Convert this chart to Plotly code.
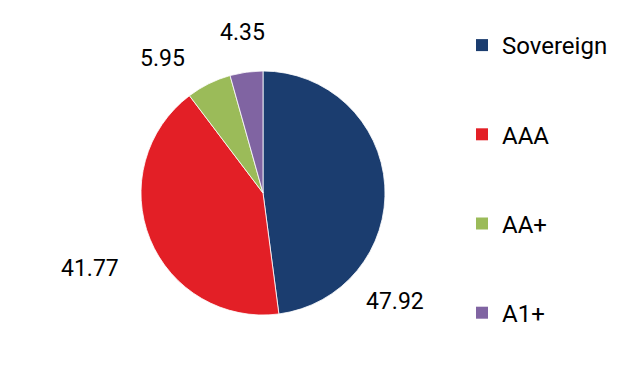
import plotly.graph_objects as go

categories = ["Sovereign", "AAA", "AA+", "A1+"]
values = [47.92, 41.77, 5.95, 4.35]
colors = ["#1b3d6f", "#e31f26", "#9bbb59", "#8064a2"]
# label anchor positions (paper fraction) for each value label
label_pos = [(0.631, 0.224), (0.144, 0.307), (0.260, 0.850), (0.387, 0.917)]

W, H = 626, 388
FONT = "Roboto"

fig = go.Figure()
fig.add_trace(go.Pie(
    labels=categories, values=values, sort=False, direction="clockwise",
    rotation=0, marker=dict(colors=colors, line=dict(color="white", width=0.8)),
    textinfo="none", hoverinfo="label+value", showlegend=False,
    domain=dict(x=[141 / W, 385 / W], y=[73 / H, 317 / H]),
))

for i, (c, col) in enumerate(zip(categories, colors)):
    fig.add_trace(go.Scatter(
        x=[None], y=[None], mode="markers", name=c, legendgroup=f"g{i}",
        marker=dict(symbol="square", size=12, color=col),
    ))

for v, (px, py) in zip(values, label_pos):
    fig.add_annotation(x=px, y=py, xref="paper", yref="paper", text=f"{v:.2f}",
                       xanchor="center", yanchor="middle", showarrow=False,
                       font=dict(family=FONT, size=23, color="#000000"))

fig.update_layout(
    width=W, height=H, margin=dict(l=0, r=0, t=0, b=0),
    paper_bgcolor="white", plot_bgcolor="white",
    xaxis=dict(visible=False), yaxis=dict(visible=False),
    legend=dict(x=462 / W, y=1 - 23 / H, xanchor="left", yanchor="top",
                font=dict(family=FONT, size=24, color="#000000"),
                tracegroupgap=55, bgcolor="rgba(0,0,0,0)"),
    font=dict(family=FONT),
)

fig.write_html("out.html", config={"displayModeBar": False},
               post_script="document.body.style.margin='0';")
